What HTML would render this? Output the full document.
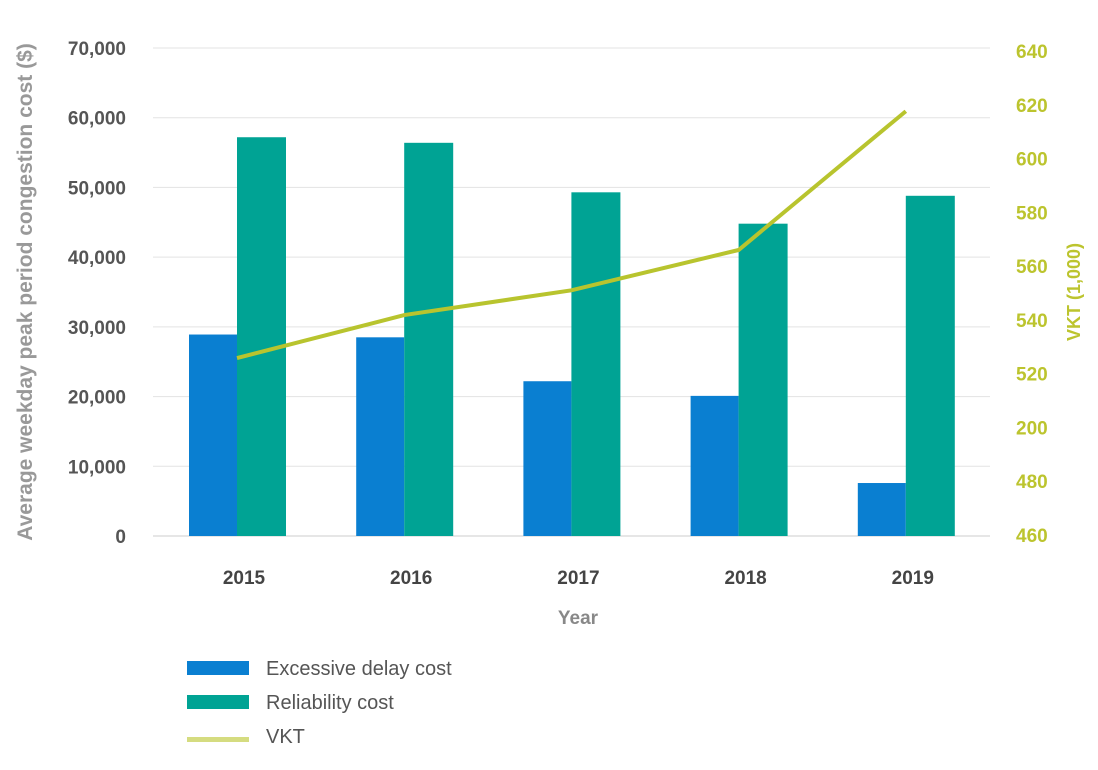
<!DOCTYPE html>
<html><head><meta charset="utf-8"><style>
body{margin:0;background:#fff;}
svg{display:block;font-family:"Liberation Sans",sans-serif;}
</style></head><body>
<svg id="chart" width="1098" height="770">
<g id="grid"></g><g id="bars"></g><g id="line"></g><g id="axes"></g>
<text transform="translate(32,292) rotate(-90)" text-anchor="middle" font-size="21" font-weight="bold" fill="#999">Average weekday peak period congestion cost ($)</text>
<text transform="translate(1080,292) rotate(-90)" text-anchor="middle" font-size="18" font-weight="bold" fill="#bcc42e">VKT (1,000)</text>
<text x="578" y="624" text-anchor="middle" font-size="19" font-weight="bold" fill="#888">Year</text>
<g>
<rect x="187" y="661" width="62" height="14" fill="#0a7fd1"/>
<text x="266" y="675" font-size="20" fill="#555">Excessive delay cost</text>
<rect x="187" y="695" width="62" height="14" fill="#00a394"/>
<text x="266" y="709" font-size="20" fill="#555">Reliability cost</text>
<rect x="187" y="737" width="62" height="5" fill="#d5dc80"/>
<text x="266" y="743" font-size="20" fill="#555">VKT</text>
</g>
</svg>
<script>
const years=["2015","2016","2017","2018","2019"];
const delay=[28900,28500,22200,20100,7600];
const reliability=[57200,56400,49300,44800,48800];
const vkt=[525.8,541.8,551,566,617.6];
const leftTicks=[0,10000,20000,30000,40000,50000,60000,70000];
const rightTicks=[460,480,500,520,540,560,580,600,620,640];
const rightLabels=["460","480","200","520","540","560","580","600","620","640"];
const NS="http://www.w3.org/2000/svg";
const yL=v=>536-v/70000*488;
const yR=v=>535-(v-460)/180*484;
const xC=i=>237+i*167.2;
function mk(t,a,p){const e=document.createElementNS(NS,t);for(const k in a)e.setAttribute(k,a[k]);p.appendChild(e);return e;}
const grid=document.getElementById('grid'),bars=document.getElementById('bars'),axes=document.getElementById('axes'),line=document.getElementById('line');
leftTicks.forEach(v=>{
 const g=mk('line',{x1:153,x2:990,y1:yL(v),y2:yL(v),stroke:v===0?'#ccc':'#e3e3e3','stroke-width':1},grid);
 
 
 const t=mk('text',{x:126,y:yL(v)+7,'text-anchor':'end','font-size':19,'font-weight':'bold',fill:'#555'},axes);
 t.textContent=v.toLocaleString('en-US');
 
 
});
rightTicks.forEach((v,i)=>{
 const t=mk('text',{x:1016,y:yR(v)+7,'font-size':19,'font-weight':'bold',fill:'#bcc42e'},axes);
 t.textContent=rightLabels[i];
 
 
});
years.forEach((y,i)=>{
 const b=mk('rect',{x:xC(i)-48,y:yL(delay[i]),width:48,height:536-yL(delay[i]),fill:'#0a7fd1'},bars);
 
 
 const r=mk('rect',{x:xC(i),y:yL(reliability[i]),width:49,height:536-yL(reliability[i]),fill:'#00a394'},bars);
 
 
 const t=mk('text',{x:xC(i)+7,y:584,'text-anchor':'middle','font-size':19,'font-weight':'bold',fill:'#444'},axes);
 t.textContent=y;
 
 
});
const p=mk('polyline',{points:vkt.map((v,i)=>xC(i)+','+yR(v)).join(' '),fill:'none',stroke:'#b8c42e','stroke-width':4},line);


</script>
</body></html>
